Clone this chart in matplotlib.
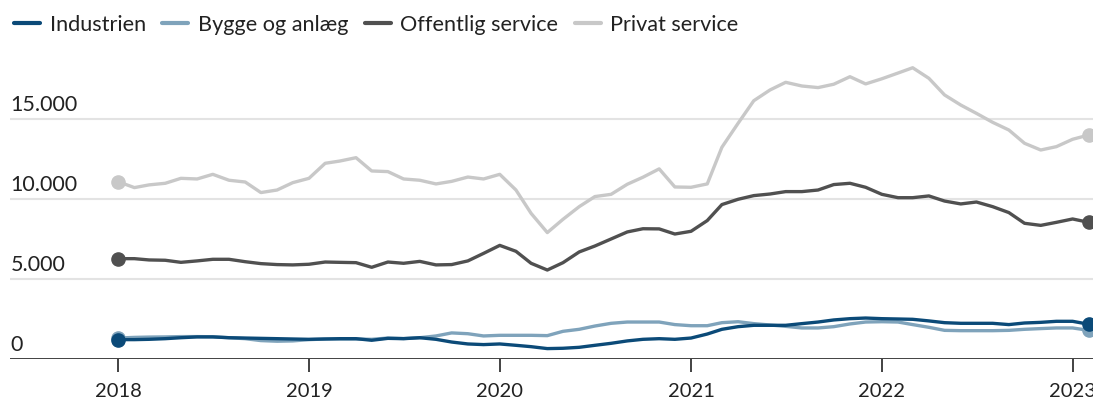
import matplotlib
matplotlib.use("Agg")
import matplotlib.pyplot as plt
import matplotlib.dates as mdates
import pandas as pd
import numpy as np

months = pd.date_range("2018-01-01", periods=62, freq="MS")

industrien = [1230, 1230, 1250, 1290, 1350, 1400, 1400, 1350, 1330, 1310, 1290, 1270,
              1250, 1270, 1290, 1290, 1190, 1310, 1290, 1350, 1250, 1080, 960, 920,
              960, 875, 790, 670, 690, 750, 875, 1000, 1150, 1250, 1290, 1250,
              1330, 1580, 1875, 2040, 2125, 2125, 2125, 2230, 2330, 2460, 2540, 2580,
              2540, 2520, 2500, 2400, 2290, 2250, 2250, 2250, 2170, 2270, 2310, 2375,
              2375, 2190]
bygge = [1330, 1370, 1390, 1400, 1420, 1420, 1410, 1350, 1290, 1170, 1130, 1150,
         1230, 1270, 1270, 1270, 1250, 1330, 1300, 1350, 1460, 1650, 1600, 1460,
         1500, 1500, 1500, 1480, 1750, 1875, 2080, 2250, 2330, 2330, 2330, 2170,
         2100, 2100, 2290, 2350, 2230, 2145, 2060, 1960, 1960, 2040, 2210, 2330,
         2350, 2330, 2170, 2000, 1810, 1790, 1790, 1790, 1810, 1875, 1920, 1960,
         1960, 1810]
offentlig = [6290, 6290, 6210, 6190, 6060, 6150, 6250, 6250, 6100, 5980, 5920, 5900,
             5940, 6080, 6060, 6040, 5750, 6080, 6000, 6120, 5900, 5920, 6150, 6620,
             7120, 6750, 6000, 5580, 6040, 6710, 7080, 7520, 7960, 8160, 8150, 7830,
             8000, 8670, 9670, 10000, 10230, 10330, 10480, 10480, 10580, 10920, 11000, 10750,
             10310, 10100, 10100, 10210, 9890, 9710, 9830, 9540, 9170, 8500, 8370, 8560,
             8770, 8560]
privat = [11100, 10730, 10900, 11000, 11310, 11270, 11560, 11190, 11080, 10420, 10580, 11040,
          11310, 12250, 12390, 12600, 11770, 11730, 11270, 11190, 10960, 11120, 11390, 11270,
          11560, 10580, 9120, 7920, 8750, 9540, 10170, 10310, 10940, 11380, 11900, 10770,
          10750, 10960, 13250, 14750, 16160, 16830, 17310, 17080, 16980, 17190, 17660, 17210,
          17530, 17890, 18220, 17560, 16520, 15890, 15370, 14810, 14330, 13500, 13080, 13290,
          13750, 14020]

series_names = ["Industrien", "Bygge og anlæg", "Offentlig service", "Privat service"]
series_values = [industrien, bygge, offentlig, privat]
series_colors = ["#0b4a78", "#7fa3bb", "#505050", "#c8c8c8"]

y_ticks = [0, 5000, 10000, 15000]
y_tick_labels = ["0", "5.000", "10.000", "15.000"]
x_years = [2018, 2019, 2020, 2021, 2022, 2023]

plt.rcParams["font.family"] = ["Lato", "DejaVu Sans"]

fig = plt.figure(figsize=(10.93, 4.04), dpi=100)
ax = fig.add_axes([10 / 1093, 0.1106, 1 - 10 / 1093, 0.7526])

ax.set_ylim(0, 19000)
ax.set_xlim(pd.Timestamp("2017-06-08"), pd.Timestamp("2023-02-09"))

# gridlines
for yv in y_ticks[1:]:
    ax.axhline(yv, color="#e3e3e3", lw=1.5, zorder=0)
ax.axhline(0, color="#333333", lw=1.3, zorder=1)

# draw series: background first
handles = {}
for idx in [3, 2, 1, 0]:
    vals = series_values[idx]
    (ln,) = ax.plot(months, vals, color=series_colors[idx], lw=2.4,
                    solid_joinstyle="round", solid_capstyle="round", zorder=3 + (3 - idx))
    ax.plot([months[0], months[-1]], [vals[0], vals[-1]], "o", color=series_colors[idx],
            ms=9.5, zorder=3 + (3 - idx), clip_on=False)
    handles[idx] = ln

for s in ax.spines.values():
    s.set_visible(False)

ax.set_yticks([])
ax.set_xticks([pd.Timestamp(f"{y}-01-01") for y in x_years])
ax.set_xticklabels([str(y) for y in x_years])
ax.tick_params(axis="x", length=9, width=1.2, color="#222222", pad=8,
               labelsize=14.5, labelcolor="#222222")

for yv, lab in zip(y_ticks, y_tick_labels):
    ax.annotate(lab, xy=(0, yv), xycoords=("axes fraction", "data"),
                xytext=(0.5, 5.8), textcoords="offset points",
                ha="left", va="baseline", fontsize=15.5, color="#222222")

leg = fig.legend([handles[i] for i in range(4)], series_names, loc="upper left",
                 bbox_to_anchor=(0.0, 0.998), ncol=4, frameon=False, fontsize=15.6,
                 handlelength=1.2, handletextpad=0.45, columnspacing=0.75,
                 borderaxespad=0.25)
for t in leg.get_texts():
    t.set_color("#222222")
for h in leg.get_lines():
    h.set_linewidth(3)

fig.savefig("out.png", dpi=100)
